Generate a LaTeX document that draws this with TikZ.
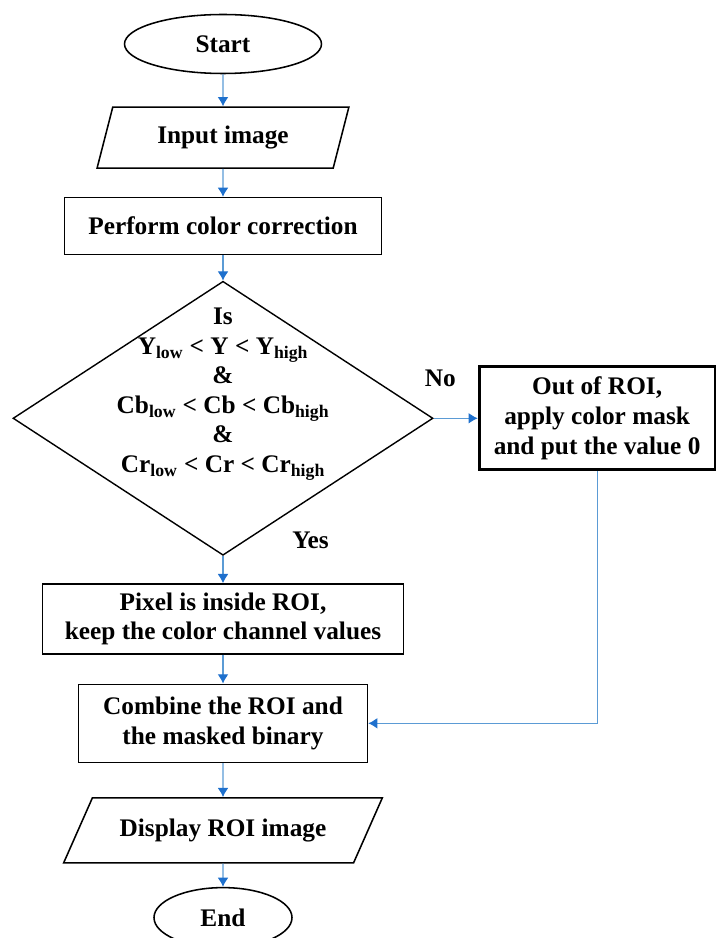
\documentclass[tikz,border=0pt]{standalone}
\usepackage{fontspec}
\setmainfont{Liberation Serif}
\usepackage{tikz}
\usepackage{xcolor}
\usetikzlibrary{positioning,shapes.geometric,arrows.meta}
\definecolor{linkblue}{RGB}{91,155,213}
\definecolor{tipblue}{RGB}{30,112,205}
\tikzset{
>={Latex[length=2.3mm,width=2.7mm,color=tipblue]},
}

\begin{document}
\begin{tikzpicture}[node distance=0.75cm]
    \tikzset{
        every node/.style={font=\fontsize{18}{21}\selectfont\bfseries},
        terminal/.style={ellipse,draw=black,line width=1.1pt, inner sep=0pt, text centered},
        inout/.style={trapezium,trapezium stretches=true,draw=black,line width=1.1pt, inner sep=0pt, text centered},
        action/.style={rectangle,draw=black,line width=1.1pt, inner sep=0.2em, align=center},
        condition/.style={diamond,draw=black,line width=1pt, inner sep=0pt},
        myarrow/.style={draw=linkblue,line width=0.8pt,->},
    }
    \useasboundingbox (0,0) rectangle (17.875,-23.45);

    \node[terminal, minimum width=4.925cm, minimum height=1.475cm] (item1) at (5.575,-1.1) {Start};
    \node[inout, trapezium left angle=68, trapezium right angle=112,
          minimum width=6.3cm, minimum height=1.525cm, below=0.8cm of item1] (item2) {Input image};
    \node[action, minimum width=7.925cm, minimum height=1.425cm, below=0.7cm of item2] (item3) {Perform color correction};
    \node[condition, minimum width=10.5cm, minimum height=6.85cm, below=0.63cm of item3] (item4) {};
    \node[align=center, yshift=0.6cm] (item4text) at (item4.center)
        {Is\\ Y\textsubscript{low} < Y < Y\textsubscript{high}\\ \&\\
         Cb\textsubscript{low} < Cb < Cb\textsubscript{high}\\ \&\\
         Cr\textsubscript{low} < Cr < Cr\textsubscript{high}};

    \node[action, line width=2pt, minimum width=5.9cm, minimum height=2.575cm, right=1.1cm of item4] (item5)
        {Out of ROI,\\ apply color mask\\ and put the value 0};

    \node[action, minimum width=9.025cm, minimum height=1.75cm, below=0.68cm of item4] (item6)
        {Pixel is inside ROI,\\ keep the color channel values};
    \node[action, minimum width=7.225cm, minimum height=1.95cm, below=0.72cm of item6] (item7)
        {Combine the ROI and\\ the masked binary};
    \node[inout, trapezium left angle=45.5, trapezium right angle=134.5,
          minimum width=7.975cm, minimum height=1.625cm, below=0.85cm of item7] (item8) {Display ROI image};
    \node[terminal, minimum width=3.45cm, minimum height=1.5cm, below=0.58cm of item8] (item9) {End};

    \path[myarrow] (item1) -- (item2);
    \path[myarrow] (item2) -- (item3);
    \path[myarrow] (item3) -- (item4);
    \path[myarrow] (item4.east) -- node [above right=0.65cm and -0.35cm, pos=0] (labno) {No} (item5.west);
    \path[myarrow] (item4.south) -- node [above right=0.05cm and 1.6cm, pos=0] (labyes) {Yes} (item6.north);
    \path[myarrow] (item6) -- (item7);
    \path[myarrow, line width=0.7pt] (item5.south) |- (item7.east);
    \path[myarrow] (item7) -- (item8);
    \path[myarrow] (item8) -- (item9);
\end{tikzpicture}
\end{document}
